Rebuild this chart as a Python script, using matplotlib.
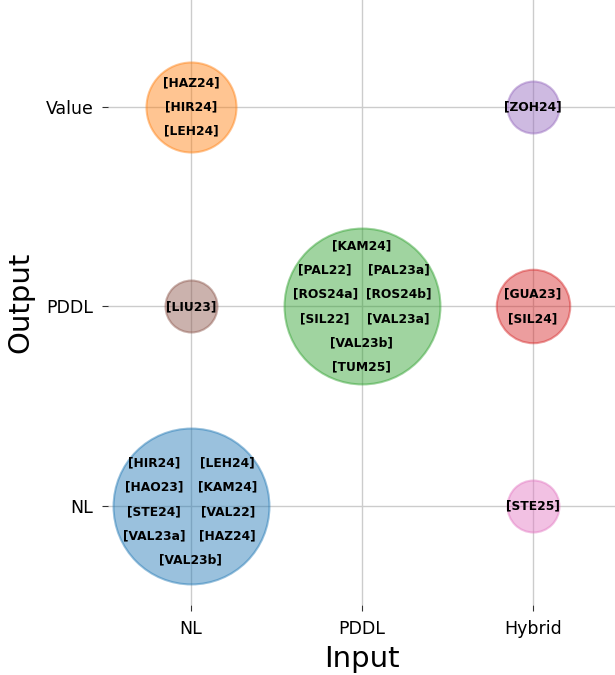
"""Bubble chart of papers by input and output representation"""

import matplotlib.pyplot as plt

input_types = ["NL", "PDDL", "Hybrid"]
output_types = ["NL", "PDDL", "Value"]

# one bubble per (input, output) pair, in colour order
bubble_inputs = ["NL", "NL", "PDDL", "Hybrid", "Hybrid", "NL", "Hybrid"]
bubble_outputs = ["NL", "Value", "PDDL", "PDDL", "Value", "PDDL", "NL"]
bubble_papers = [
    ["[HIR24]", "[LEH24]", "[HAO23]", "[KAM24]", "[STE24]", "[VAL22]",
     "[VAL23a]", "[HAZ24]", "[VAL23b]"],
    ["[HAZ24]", "[HIR24]", "[LEH24]"],
    ["[KAM24]", "[PAL22]", "[PAL23a]", "[ROS24a]", "[ROS24b]", "[SIL22]",
     "[VAL23a]", "[VAL23b]", "[TUM25]"],
    ["[GUA23]", "[SIL24]"],
    ["[ZOH24]"],
    ["[LIU23]"],
    ["[STE25]"],
]
# how many labels go on each text row inside a bubble
row_layouts = [
    [2, 2, 2, 2, 1],
    [1, 1, 1],
    [1, 2, 2, 2, 1, 1],
    [1, 1],
    [1],
    [1],
    [1],
]

colors = plt.cm.tab10.colors

fig = plt.figure(figsize=(6.15, 6.75), dpi=100)
ax = fig.add_axes([0.1756, 0.1037, 0.8244, 0.8963])

for i in range(len(bubble_papers)):
    x = input_types.index(bubble_inputs[i])
    y = output_types.index(bubble_outputs[i])
    n = len(bubble_papers[i])
    ax.scatter(x, y, s=n * 1400, color=colors[i], alpha=0.45,
               edgecolors=colors[i], linewidths=1.5, zorder=2)

    rows = row_layouts[i]
    step = 17.5
    k = 0
    for r, count in enumerate(rows):
        dy = ((len(rows) - 1) / 2 - r) * step
        if len(rows) == 5:
            dy -= 4
        for c in range(count):
            dx = 0 if count == 1 else (-26.5 if c == 0 else 26.5)
            ax.annotate(bubble_papers[i][k], (x, y), xytext=(dx, dy),
                        textcoords="offset points", ha="center", va="center",
                        fontsize=8.8, fontweight="bold", zorder=3)
            k += 1

ax.set_xticks(range(len(input_types)))
ax.set_xticklabels(input_types)
ax.set_yticks(range(len(output_types)))
ax.set_yticklabels(output_types)
ax.set_xlim(-0.485, 2.48)
ax.set_ylim(-0.496, 2.536)
ax.tick_params(labelsize=12.5, length=4, width=0.8, color="#333333", pad=6.5)
ax.grid(True, color="#cccccc", linewidth=1, zorder=0)
ax.set_axisbelow(True)
for s in ax.spines.values():
    s.set_visible(False)

ax.set_xlabel("Input", fontsize=21, labelpad=5)
ax.set_ylabel("Output", fontsize=21, labelpad=8)

fig.savefig("out.png", dpi=100)
